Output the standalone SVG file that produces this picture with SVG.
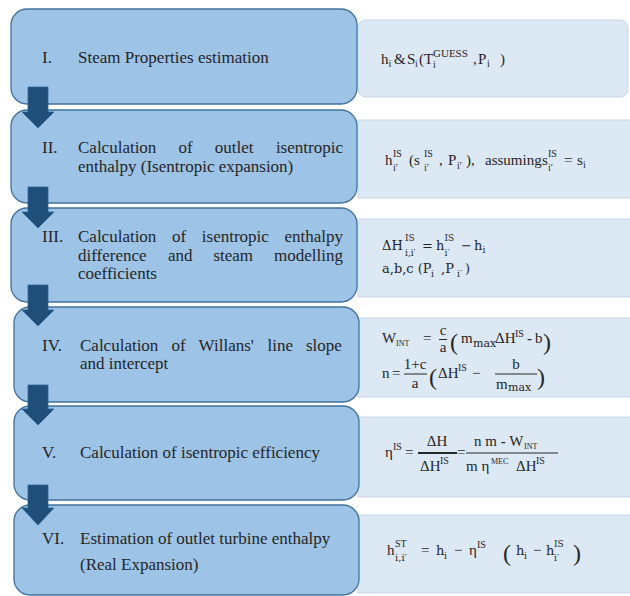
<svg xmlns="http://www.w3.org/2000/svg" width="630" height="596" viewBox="0 0 630 596">
<style>
.lb{fill:#9dc3e6;stroke:#41719c;stroke-width:1.3}
.rb{fill:#dde8f5;stroke:#c8d5e6;stroke-width:1}
.t{font-family:"Liberation Serif","Times New Roman",serif;font-size:17px;fill:#262626}
.f{font-family:"Liberation Serif","Times New Roman",serif;font-size:15px;fill:#262626}
.c{font-family:"DejaVu Serif",serif;font-size:13px;fill:#262626}
.s{font-family:"Liberation Serif","Times New Roman",serif;font-size:10px;fill:#262626}
.sc{font-family:"DejaVu Serif",serif;font-size:9px;fill:#262626}
.bp{font-family:"Liberation Serif","Times New Roman",serif;font-size:24px;fill:#262626}
.m{text-anchor:middle}
.bar{stroke:#262626;stroke-width:1}
.arr{fill:#1f4e79;stroke:#2e6497;stroke-width:0.8}
</style>
<g id="node1">
<rect class="rb" x="358" y="20" width="270" height="77" rx="8"/>
<rect class="lb" x="11" y="9" width="346" height="95" rx="16"/>
<text class="t" x="42" y="63">I.</text>
<text class="t" x="78" y="63">Steam Properties estimation</text>
<text class="f" x="381" y="64">h</text><text class="s" x="388.5" y="67">i</text>
<text class="f" x="394" y="64">&amp;</text><text class="f" x="407" y="64">S</text><text class="s" x="415" y="67">i</text>
<text class="f" x="419" y="64">(T</text><text class="s" x="433" y="68">i</text><text class="s" x="433" y="57" style="font-size:11px">GUESS</text>
<text class="f" x="473" y="64">,</text><text class="f" x="478" y="64">P</text><text class="s" x="487" y="67">i</text>
<text class="f" x="500" y="64">)</text>
</g>
<g id="node2">
<rect class="rb" x="358" y="120" width="290" height="78"/>
<rect class="lb" x="11" y="110" width="346" height="93" rx="16"/>
<text class="t" x="42" y="153">II.</text>
<text class="t" y="153"><tspan x="78">Calculation</tspan><tspan x="178.4">of</tspan><tspan x="214.8">outlet</tspan><tspan x="275.9">isentropic</tspan></text>
<text class="t" x="78" y="172">enthalpy (Isentropic expansion)</text>
<text class="f" x="385" y="165">h</text><text class="s" x="393" y="157">IS</text><text class="s" x="393" y="171">i′</text>
<text class="f" x="409" y="165">(s</text><text class="s" x="424" y="157">IS</text><text class="s" x="424" y="171">i′</text>
<text class="f" x="439" y="165">,</text><text class="f" x="448" y="165">P</text><text class="s" x="457" y="169">i′</text>
<text class="f" x="466" y="165">),</text>
<text class="f" x="485" y="165">assuming</text>
<text class="f" x="542" y="165">s</text><text class="s" x="548" y="157">IS</text><text class="s" x="548" y="171">i′</text>
<text class="f" x="564" y="165">=</text><text class="f" x="577" y="165">s</text><text class="s" x="583" y="168">i</text>
</g>
<g id="node3">
<rect class="rb" x="358" y="219" width="290" height="78"/>
<rect class="lb" x="11" y="208" width="346" height="94" rx="16"/>
<text class="t" x="42" y="242">III.</text>
<text class="t" y="242"><tspan x="78">Calculation</tspan><tspan x="172">of</tspan><tspan x="201.8">isentropic</tspan><tspan x="284.4">enthalpy</tspan></text>
<text class="t" y="261"><tspan x="78">difference</tspan><tspan x="167.9">and</tspan><tspan x="213.4">steam</tspan><tspan x="274.1">modelling</tspan></text>
<text class="t" x="78" y="279">coefficients</text>
<text class="c" x="382" y="250">ΔH</text><text class="sc" x="405" y="241">IS</text><text class="sc" x="405" y="256">i,i′</text>
<text class="c" x="422" y="250">=</text>
<text class="c" x="436" y="250">h</text><text class="sc" x="444.5" y="241">IS</text><text class="sc" x="444.5" y="256">i′</text>
<text class="c" x="461" y="250">−</text>
<text class="c" x="474" y="250">h</text><text class="sc" x="482.5" y="253">i</text>
<text class="c" x="382" y="273">a,b,c (P</text><text class="sc" x="431" y="277">i</text>
<text class="c" x="441" y="273">,P</text><text class="sc" x="457" y="277">i′</text>
<text class="c" x="465" y="273">)</text>
</g>
<g id="node4">
<rect class="rb" x="358" y="318" width="290" height="79"/>
<rect class="lb" x="14" y="307" width="345" height="95" rx="16"/>
<text class="t" x="42" y="351">IV.</text>
<text class="t" y="351"><tspan x="80">Calculation</tspan><tspan x="171.4">of</tspan><tspan x="198.6">Willans'</tspan><tspan x="267.5">line</tspan><tspan x="306">slope</tspan></text>
<text class="t" x="80" y="369">and intercept</text>
<text class="f" x="382" y="343">W</text><text class="s" x="396" y="346" style="font-size:8px">INT</text>
<text class="f" x="423" y="343">=</text>
<text class="f m" x="443" y="335">c</text><line class="bar" x1="439" y1="339.5" x2="447" y2="339.5"/><text class="f m" x="443" y="352">a</text>
<text class="bp" x="450" y="350">(</text>
<text class="f" x="461" y="343">m</text><text class="sc" x="473" y="347" style="font-size:11px">max</text>
<text class="f" x="495" y="343">ΔH</text><text class="s" x="515" y="337">IS</text>
<text class="f" x="527" y="343" style="font-weight:bold">-</text>
<text class="f" x="535" y="343">b</text>
<text class="bp" x="543" y="350">)</text>
<text class="f" x="382" y="378">n</text><text class="f" x="392" y="378">=</text>
<text class="f m" x="415" y="369">1+c</text><line class="bar" x1="404" y1="374" x2="427" y2="374"/><text class="f m" x="415" y="388">a</text>
<text class="bp" x="429" y="385">(</text>
<text class="f" x="438" y="378">ΔH</text><text class="s" x="458" y="371">IS</text>
<text class="f" x="472" y="378">−</text>
<text class="f m" x="516" y="369">b</text><line class="bar" x1="495" y1="374" x2="537" y2="374"/>
<text class="f" x="496" y="389">m</text><text class="sc" x="508" y="391" style="font-size:11px">max</text>
<text class="bp" x="537" y="385">)</text>
</g>
<g id="node5">
<rect class="rb" x="358" y="417" width="290" height="80"/>
<rect class="lb" x="14" y="406" width="345" height="94" rx="16"/>
<text class="t" x="42" y="458">V.</text>
<text class="t" x="80" y="458">Calculation of isentropic efficiency</text>
<text class="f" x="385" y="457">η</text><text class="s" x="393" y="450">IS</text>
<text class="f" x="405" y="457">=</text>
<text class="f m" x="437" y="446">ΔH</text>
<line x1="418" y1="453" x2="457" y2="453" stroke="#262626" stroke-width="2"/>
<text class="f" x="420" y="471">ΔH</text><text class="s" x="440" y="464">IS</text>
<text class="f" x="457" y="457">=</text>
<line class="bar" x1="466" y1="453" x2="558" y2="453"/>
<text class="f" x="474" y="446">n m <tspan style="font-weight:bold">-</tspan> W</text><text class="s" x="524" y="449" style="font-size:8px">INT</text>
<text class="f" x="466" y="471">m η</text><text class="s" x="491" y="464" style="font-size:8px">MEC</text>
<text class="f" x="516" y="471">ΔH</text><text class="s" x="536" y="464">IS</text>
</g>
<g id="node6">
<rect class="rb" x="358" y="515" width="290" height="78"/>
<rect class="lb" x="14" y="505" width="345" height="90" rx="16"/>
<text class="t" x="42" y="544">VI.</text>
<text class="t" x="80" y="544">Estimation of outlet turbine enthalpy</text>
<text class="t" x="80" y="570">(Real Expansion)</text>
<text class="f" x="387" y="555">h</text><text class="s" x="395" y="547">ST</text><text class="sc" x="395" y="561" style="font-size:10px">i,i′</text>
<text class="f" x="421" y="555">=</text>
<text class="c" x="436" y="555">h</text><text class="sc" x="444" y="559">i</text>
<text class="f" x="454" y="555">−</text>
<text class="f" x="469" y="555">η</text><text class="s" x="477" y="548">IS</text>
<text class="bp" x="503" y="561">(</text>
<text class="c" x="516" y="555">h</text><text class="sc" x="524" y="559">i</text>
<text class="f" x="533" y="555">−</text>
<text class="c" x="546" y="555">h</text><text class="sc" x="554" y="547">IS</text><text class="sc" x="554" y="561">i′</text>
<text class="bp" x="573" y="561">)</text>
</g>
<g id="connectors">
<polygon class="arr" points="28,87 48,87 48,112 54,112 38,128 22,112 28,112"/>
<polygon class="arr" points="28,187 48,187 48,212 54,212 38,228 22,212 28,212"/>
<polygon class="arr" points="28,285 48,285 48,310 54,310 38,326 22,310 28,310"/>
<polygon class="arr" points="28,385 48,385 48,409 54,409 38,425 22,409 28,409"/>
<polygon class="arr" points="28,485 48,485 48,508 54,508 38,525 22,508 28,508"/>
</g>
</svg>
